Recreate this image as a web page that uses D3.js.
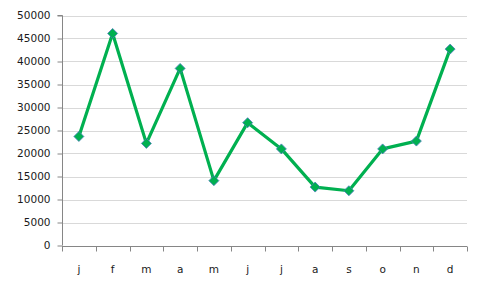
<!DOCTYPE html>
<html><head><meta charset="utf-8">
<script src="https://cdn.jsdelivr.net/npm/d3@7"></script>
<style>body{margin:0;background:#fff;}svg{display:block;}</style>
</head><body>
<script>
const categories = ["j","f","m","a","m","j","j","a","s","o","n","d"];
const values = [23700, 46100, 22200, 38500, 14100, 26700, 21000, 12700, 11900, 21000, 22700, 42700];
const yTicks = [0,5000,10000,15000,20000,25000,30000,35000,40000,45000,50000];

const W = 482, H = 290;
const m = {left: 62, right: 15, top: 15.5, bottom: 44.5};
const svg = d3.select("body").append("svg").attr("width", W).attr("height", H);

const x = d3.scaleBand().domain(d3.range(categories.length)).range([m.left, W - m.right]);
const y = d3.scaleLinear().domain([0, 50000]).range([H - m.bottom, m.top]);

// gridlines
svg.append("g").selectAll("line").data(yTicks.filter(d => d > 0)).join("line")
  .attr("x1", m.left).attr("x2", W - m.right)
  .attr("y1", d => Math.round(y(d)) + 0.5).attr("y2", d => Math.round(y(d)) + 0.5)
  .attr("stroke", "#d9d9d9").attr("stroke-width", 1);

const font = "DejaVu Sans, Verdana, sans-serif";

// y axis
const yAxis = svg.append("g").attr("transform", `translate(${m.left + 0.5},0)`)
  .call(d3.axisLeft(y).tickValues(yTicks).tickSize(5).tickPadding(7).tickFormat(d3.format("d")));
yAxis.selectAll("path,line").attr("stroke", "#868686");
yAxis.selectAll("text").attr("font-family", font).attr("font-size", "10.5px").attr("fill", "#1a1a1a");
yAxis.select(".domain").attr("d", `M-5,${y(50000)}H0V${y(0)}`);

// x axis
const xAxis = svg.append("g").attr("transform", `translate(0,${Math.round(y(0)) + 0.5})`);
xAxis.append("line").attr("x1", m.left).attr("x2", W - m.right).attr("stroke", "#868686");
const bounds = d3.range(categories.length + 1).map(i => i < categories.length ? x(i) : x(categories.length - 1) + x.bandwidth());
xAxis.selectAll("line.t").data(bounds).join("line").attr("class", "t")
  .attr("x1", d => Math.round(d) + 0.5).attr("x2", d => Math.round(d) + 0.5)
  .attr("y1", 0).attr("y2", 5).attr("stroke", "#868686");
xAxis.selectAll("text").data(categories).join("text")
  .attr("x", (d, i) => x(i) + x.bandwidth() / 2).attr("y", 26)
  .attr("text-anchor", "middle").attr("font-family", font).attr("font-size", "10.5px").attr("fill", "#1a1a1a")
  .text(d => d);

// line
const cx = i => x(i) + x.bandwidth() / 2;
svg.append("path").datum(values)
  .attr("d", d3.line().x((d, i) => cx(i)).y(d => y(d)))
  .attr("fill", "none").attr("stroke", "#00b050").attr("stroke-width", 3.2).attr("stroke-linejoin", "round");

// markers
svg.append("g").selectAll("path").data(values).join("path")
  .attr("transform", (d, i) => `translate(${cx(i)},${y(d)})`)
  .attr("d", "M0,-5L5,0L0,5L-5,0Z")
  .attr("fill", "#00b050").attr("stroke", "#4a7ebb").attr("stroke-width", 0.8);
</script>
</body></html>
